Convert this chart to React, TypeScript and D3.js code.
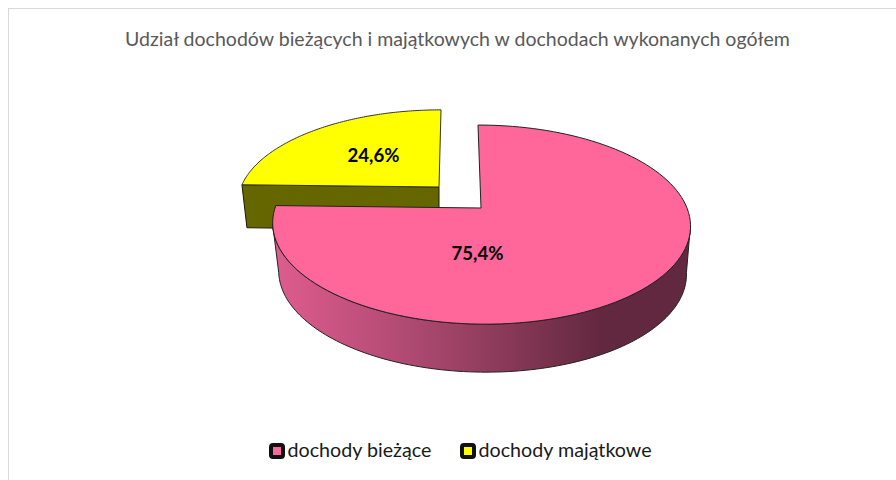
import * as d3 from "d3";
import React from "react";

const categories = ["dochody bieżące", "dochody majątkowe"];
const values = [75.4, 24.6];
const topColors = ["#ff6699", "#ffff00"];
const title = "Udział dochodów bieżących i majątkowych w dochodach wykonanych ogółem";

const width = 896;
const height = 480;
const font = "Lato, 'Open Sans', sans-serif";
const persp = 1 / 6;

// perspective projection of a disc, angle 0 is at the back, clockwise
const project = (a, disc) => {
  const w = 1 + persp * Math.cos(a);
  const y = (-disc.ry * Math.cos(a)) / w;
  const x = (disc.r * Math.sin(a)) / w + disc.tilt * y;
  return [disc.cx + x, disc.cy + y];
};

const sampleArc = (a0, a1, disc) =>
  d3.range(0, 121).map(i => project(a0 + ((a1 - a0) * i) / 120, disc));

const line = d3.line();

const pinkTop = { cx: 481, cy: 208, r: 206, ry: 96.8, tilt: 0.036 };
const pinkBottom = { cx: 482, cy: 256, r: 201, ry: 96.8, tilt: 0.036 };
const yellowTop = { cx: 439, cy: 187, r: 198, ry: 90, tilt: -0.026 };
const yellowBottom = { cx: 443, cy: 230, r: 197, ry: 90, tilt: -0.026 };

export default function App() {
  const arcs = d3
    .pie()
    .sort(null)
    .value(d => d)
    .startAngle(0)
    .endAngle(2 * Math.PI)(values);

  const pink = arcs[0];
  const yellow = arcs[1];

  // part of the rim that faces the viewer
  const rimStart = Math.acos(-persp);
  const rimEnd = 2 * Math.PI - rimStart;

  const pinkTopPath =
    line([[pinkTop.cx, pinkTop.cy], ...sampleArc(pink.startAngle, pink.endAngle, pinkTop)]) + "Z";
  const pinkRimPath =
    line([
      ...sampleArc(rimStart, rimEnd, pinkTop),
      ...sampleArc(rimEnd, rimStart, pinkBottom)
    ]) + "Z";
  const yellowTopPath =
    line([[yellowTop.cx, yellowTop.cy], ...sampleArc(yellow.startAngle, yellow.endAngle, yellowTop)]) + "Z";
  const yellowCutPath =
    line([
      project(yellow.startAngle, yellowTop),
      [yellowTop.cx, yellowTop.cy],
      [yellowTop.cx, yellowBottom.cy],
      project(yellow.startAngle, yellowBottom)
    ]) + "Z";

  const label = v => v.toFixed(1).replace(".", ",") + "%";

  const legendX = d3.scaleOrdinal().domain(categories).range([269, 460]);

  return (
    <svg
      width={width}
      height={height}
      style={{ position: "fixed", left: 0, top: 0, background: "#fff" }}
    >
      <defs>
        <linearGradient id="rim" gradientUnits="userSpaceOnUse" x1={278} x2={600} y1={0} y2={0}>
          <stop offset="0" stopColor="#dd5c8d" />
          <stop offset="0.4" stopColor="#b04a72" />
          <stop offset="0.7" stopColor="#8a3a59" />
          <stop offset="1" stopColor="#62283f" />
        </linearGradient>
      </defs>
      <rect x={8.5} y={8.5} width={width} height={height} fill="none" stroke="#d9d9d9" />
      <text
        x={457.5}
        y={45.5}
        textAnchor="middle"
        fontFamily={font}
        fontSize={19.55}
        fill="#595959"
      >
        {title}
      </text>

      <path d={yellowCutPath} fill="#666600" stroke="#1a1a00" strokeWidth={1} />
      <path d={yellowTopPath} fill={topColors[1]} stroke="#333" strokeWidth={1} />
      <path d={pinkRimPath} fill="url(#rim)" stroke="#222" strokeWidth={1} />
      <path d={pinkTopPath} fill={topColors[0]} stroke="#222" strokeWidth={1} />

      <text x={477.5} y={259.5} textAnchor="middle" fontFamily={font} fontWeight={700} fontSize={18.6} fill="#000">
        {label(values[0])}
      </text>
      <text x={373.5} y={161.5} textAnchor="middle" fontFamily={font} fontWeight={700} fontSize={18.6} fill="#000">
        {label(values[1])}
      </text>

      {categories.map((c, i) => (
        <g key={c}>
          <rect
            x={legendX(c) + 2}
            y={445}
            width={12}
            height={12}
            rx={2}
            fill={topColors[i]}
            stroke="#111"
            strokeWidth={4}
          />
          <text x={legendX(c) + 18.5} y={457} fontFamily={font} fontSize={19.7} fill="#1a1a1a">
            {c}
          </text>
        </g>
      ))}
    </svg>
  );
}
